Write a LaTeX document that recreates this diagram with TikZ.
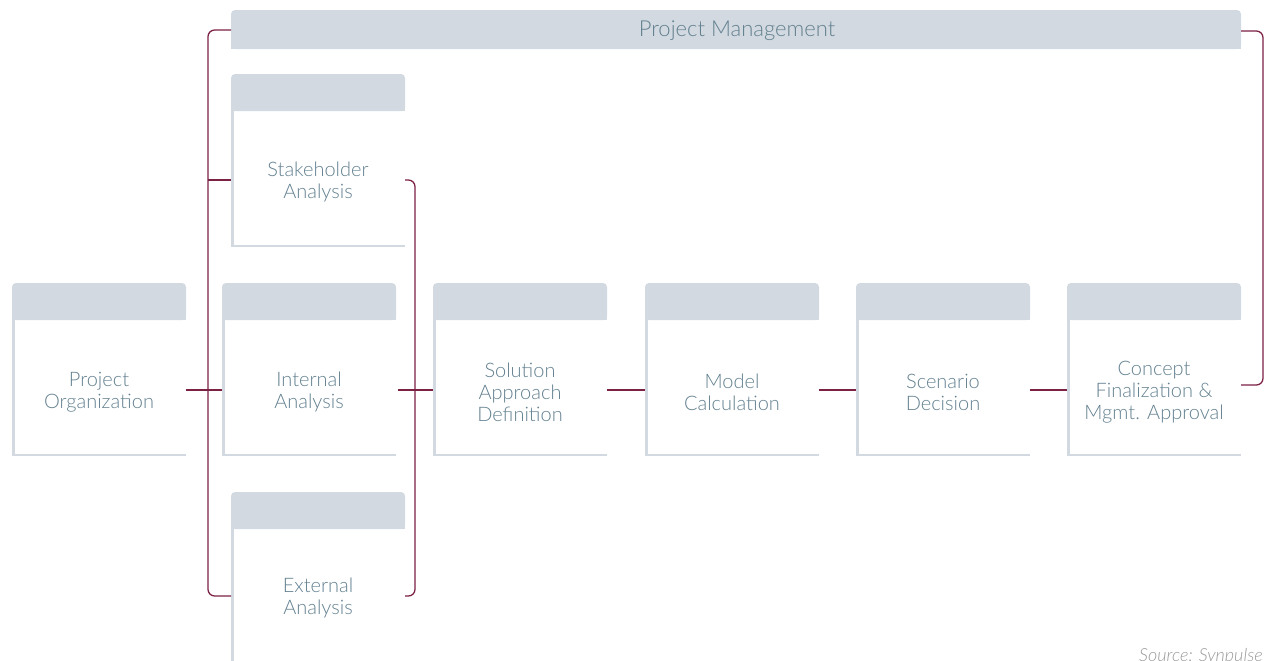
\documentclass[tikz,border=0pt]{standalone}
\usepackage{fontspec}
\setmainfont{Lato}[UprightFont=* Light, ItalicFont=* Light Italic]
\definecolor{hdr}{HTML}{D2D9E0}
\definecolor{txt}{HTML}{62808F}
\definecolor{conn}{HTML}{7B2143}
\definecolor{src}{HTML}{9A9A9A}
\tikzset{
  hdrfill/.style={fill=hdr},
  leftb/.style={draw=hdr, line width=2.2pt},
  botb/.style={draw=hdr, line width=1.1pt},
  lbl/.style={text=txt, align=center, inner sep=0pt, font=\fontsize{15pt}{16.4pt}\selectfont},
  connline/.style={draw=conn, line width=0.95pt},
}
\newcommand\stagebox[5]{%
  \fill[hdrfill, rounded corners=3pt] (#2,#3) rectangle (#2+174,#3+37);
  \fill[hdrfill] (#2,#3+12) rectangle (#2+174,#3+37);
  \draw[leftb] (#2+1.5,#3+37) -- (#2+1.5,#3+172);
  \draw[botb] (#2,#3+172) -- (#2+174,#3+172);
  \node[lbl] (#1) at (#2+87,#4+2) {#5};
  \coordinate (#1-w) at (#2,#4);
  \coordinate (#1-e) at (#2+174,#4);
}
\begin{document}
\begin{tikzpicture}[x=0.75pt,y=-0.75pt]
\useasboundingbox (0,0) rectangle (1265,661);
% Project management bar
\fill[hdrfill, rounded corners=3pt] (231,10) rectangle (1241,49);
\fill[hdrfill] (231,20) rectangle (1241,49);
\node[lbl, font=\fontsize{16.5pt}{18pt}\selectfont] (pm) at (737,31) {Project Management};
\coordinate (pm-w) at (231,30);
\coordinate (pm-e) at (1241,31);
% stages
\stagebox{po}{12}{283}{390}{Project\\Organization}
\stagebox{ia}{222}{283}{390}{Internal\\Analysis}
\stagebox{sd}{433}{283}{390}{Solution\\Approach\\Definition}
\stagebox{mc}{645}{283}{390}{Model\\Calculation}
\stagebox{sc}{856}{283}{390}{Scenario\\Decision}
\stagebox{cf}{1067}{283}{390}{Concept\\Finalization \&\\Mgmt. Approval}
\stagebox{sa}{231}{74}{180}{Stakeholder\\Analysis}
\stagebox{ea}{231}{492}{596}{External\\Analysis}
% junctions
\coordinate (jl) at (208,390);
\coordinate (jr) at (415,390);
\coordinate (cfx) at (1241,385);
% connectors
\draw[connline] (po-e) -- (ia-w);
\draw[connline, rounded corners=5pt] (pm-w) -| (jl) |- (ea-w);
\draw[connline] (sa-w -| jl) -- (sa-w);
\draw[connline, rounded corners=5pt] (sa-e) -| (jr) |- (ea-e);
\draw[connline] ([xshift=1.5pt]ia-e) -- (sd-w);
\draw[connline] (sd-e) -- (mc-w);
\draw[connline] (mc-e) -- (sc-w);
\draw[connline] (sc-e) -- (cf-w);
\draw[connline, rounded corners=5pt] (cfx) -- ++(22,0) |- (pm-e);
% source
\node[anchor=north east, inner sep=0pt, text=src, font=\itshape\fontsize{13.5pt}{15pt}\selectfont] (source) at (1263,648) {Source: Synpulse};
\end{tikzpicture}
\end{document}
